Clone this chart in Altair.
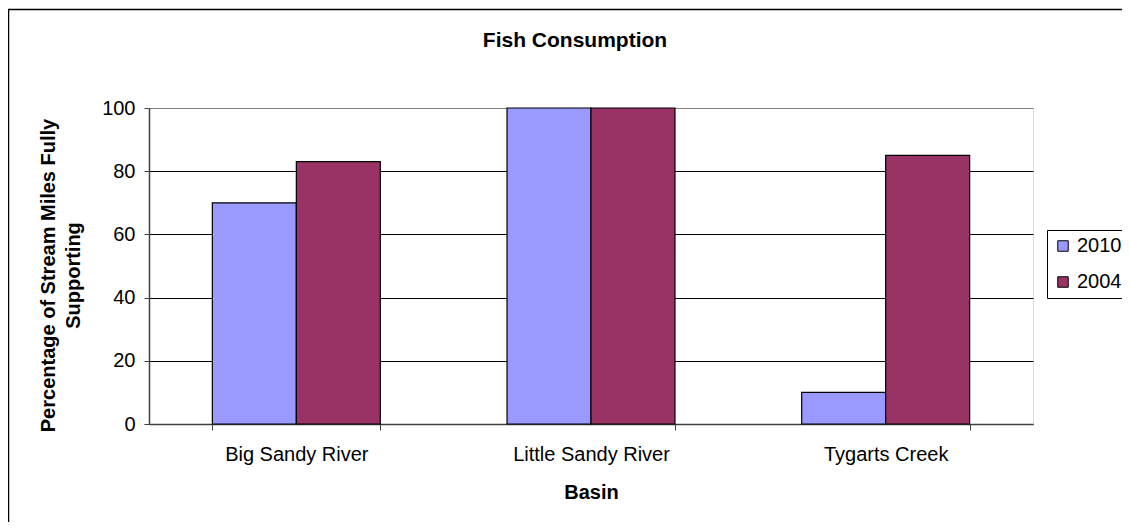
import altair as alt
import pandas as pd

basins = ["Big Sandy River", "Little Sandy River", "Tygarts Creek"]
years = ["2010", "2004"]
values_2010 = [70, 100, 10]
values_2004 = [83, 100, 85]
colors = ["#9999FF", "#993366"]
y_ticks = [0, 20, 40, 60, 80, 100]

rows = []
for b, v in zip(basins, values_2010):
    rows.append({"Basin": b, "Year": "2010", "Value": v})
for b, v in zip(basins, values_2004):
    rows.append({"Basin": b, "Year": "2004", "Value": v})
df = pd.DataFrame(rows)

FONT = "Liberation Sans"

bars = alt.Chart(df).mark_bar(stroke="black", strokeWidth=1.2).encode(
    x=alt.X(
        "Basin:N",
        sort=basins,
        scale=alt.Scale(paddingInner=0.43, paddingOuter=0.215),
        axis=alt.Axis(
            title="Basin",
            labelAngle=0,
            tickBand="extent",
            tickSize=6,
            tickColor="#404040",
            domainColor="#404040",
            domainWidth=1.5,
            labelPadding=14,
            titlePadding=18,
            grid=False,
            labelFontSize=20,
            titleFontSize=20,
            titleFontWeight="bold",
            labelColor="black",
            titleColor="black",
            labelFont=FONT,
            titleFont=FONT,
        ),
    ),
    xOffset=alt.XOffset("Year:N", sort=years),
    y=alt.Y(
        "Value:Q",
        scale=alt.Scale(domain=[0, 100]),
        axis=alt.Axis(
            values=y_ticks,
            title=["Percentage of Stream Miles Fully", "Supporting"],
            titleFontSize=20,
            titleFontWeight="bold",
            titleLineHeight=25,
            titlePadding=18,
            titleY=167,
            titleColor="black",
            titleFont=FONT,
            labelFontSize=20,
            labelFont=FONT,
            labelColor="black",
            labelPadding=9,
            tickSize=5,
            tickColor="#404040",
            domainColor="#404040",
            domainWidth=1.5,
            gridColor=alt.condition("datum.value == 100", alt.value("#808080"), alt.value("black")),
            gridWidth=1,
        ),
    ),
    color=alt.Color(
        "Year:N",
        sort=years,
        scale=alt.Scale(domain=years, range=colors),
        legend=alt.Legend(
            orient="none",
            legendX=898,
            legendY=122,
            title=None,
            fillColor="white",
            strokeColor="black",
            padding=6,
            symbolType="square",
            symbolSize=110,
            symbolStrokeColor="black",
            symbolStrokeWidth=1,
            symbolOpacity=1,
            labelFontSize=20,
            labelFont=FONT,
            labelColor="black",
            labelOffset=4,
            rowPadding=16,
        ),
    ),
)

frame = alt.Chart(pd.DataFrame({"k": [0]})).mark_rect(
    fillOpacity=0, stroke="black", strokeWidth=1.5, clip=False
).encode(
    x=alt.value(-140.5),
    x2=alt.value(3000),
    y=alt.value(-98.5),
    y2=alt.value(3000),
)

chart = alt.layer(bars, frame).properties(
    width=884,
    height=316,
    padding={"left": 141, "top": 100, "right": 89, "bottom": 98},
    autosize=alt.AutoSizeParams(type="none"),
    title=alt.TitleParams(
        "Fish Consumption",
        fontSize=21,
        fontWeight="bold",
        font=FONT,
        color="black",
        anchor="middle",
        baseline="alphabetic",
        offset=0,
        dy=59,
        dx=-16,
    ),
).configure_view(stroke="#808080", strokeWidth=1).configure(background="white")

chart.save("out.html", embed_options={"renderer": "svg", "actions": False})
